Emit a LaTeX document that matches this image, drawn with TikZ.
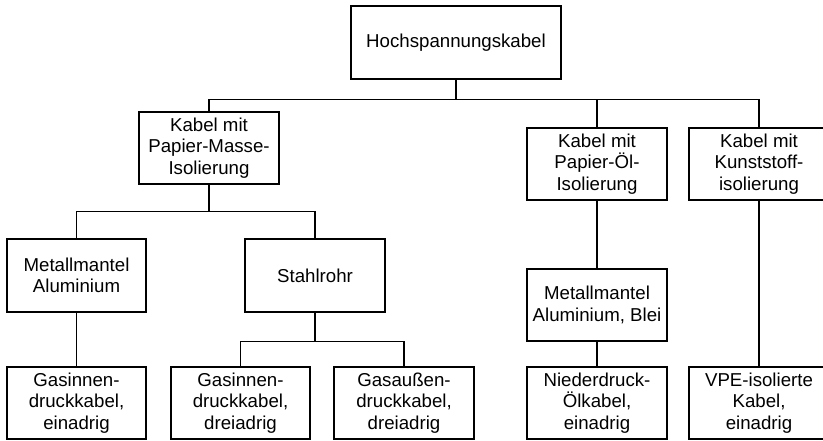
\documentclass[tikz,border=0pt]{standalone}
\usepackage{fontspec}
\setmainfont{Liberation Sans}
\usepackage{tikz}
\usetikzlibrary{calc}

\begin{document}
\begin{tikzpicture}[x=0.75pt, y=-0.75pt,
	box/.style={draw, line width=1.05pt, align=center, minimum width=105pt, minimum height=54pt, inner sep=2pt, font=\fontsize{14}{16.2}\selectfont},
	link/.style={line width=1.05pt}]
	\useasboundingbox (0,0) rectangle (823,440);
	% root
	\node[box, minimum width=157.5pt, minimum height=54.75pt] (kabel) at (456,42.5) {Hochspannungskabel};
	% isolation
	\node[box] (masse) at (209,148) {Kabel mit\\Papier-Masse-\\Isolierung};
	\node[box] (oel) at (597,164) {Kabel mit\\Papier-Öl-\\Isolierung};
	\node[box] (kunst) at (759,164) {Kabel mit\\Kunststoff-\\isolierung};
	% mantel
	\node[box, minimum width=104.25pt, minimum height=54.75pt] (alu) at (76.5,275.5) {Metallmantel\\Aluminium};
	\node[box, minimum height=54.75pt] (stahl) at (315,275.5) {Stahlrohr};
	\node[box] (blei) at (597,305) {Metallmantel\\Aluminium, Blei};
	% kabeltypen
	\node[box, minimum width=104.25pt] (ginnenA) at (76.5,403) {Gasinnen-\\druckkabel,\\einadrig};
	\node[box, minimum width=104.25pt] (ginnenB) at (240.5,403) {Gasinnen-\\druckkabel,\\dreiadrig};
	\node[box] (gaussen) at (404,403) {Gasaußen-\\druckkabel,\\dreiadrig};
	\node[box] (nieder) at (597,403) {Niederdruck-\\Ölkabel,\\einadrig};
	\node[box] (vpe) at (759,403) {VPE-isolierte\\Kabel,\\einadrig};

	\foreach \childName in {masse, oel, kunst}
	{
		\draw[link] (kabel.south) -- ++(0,20) -| (\childName.north);
	}
	\foreach \childName in {alu, stahl}
	{
		\draw[link] (masse.south) -- ++(0,27) -| (\childName.north);
	}
	\foreach \childName in {ginnenB, gaussen}
	{
		\draw[link] (stahl.south) -- ++(0,29) -| (\childName.north);
	}
	\foreach \fromName/\toName in {alu/ginnenA, oel/blei, blei/nieder, kunst/vpe}
	{
		\draw[link] (\fromName.south) -- (\toName.north);
	}
\end{tikzpicture}
\end{document}
